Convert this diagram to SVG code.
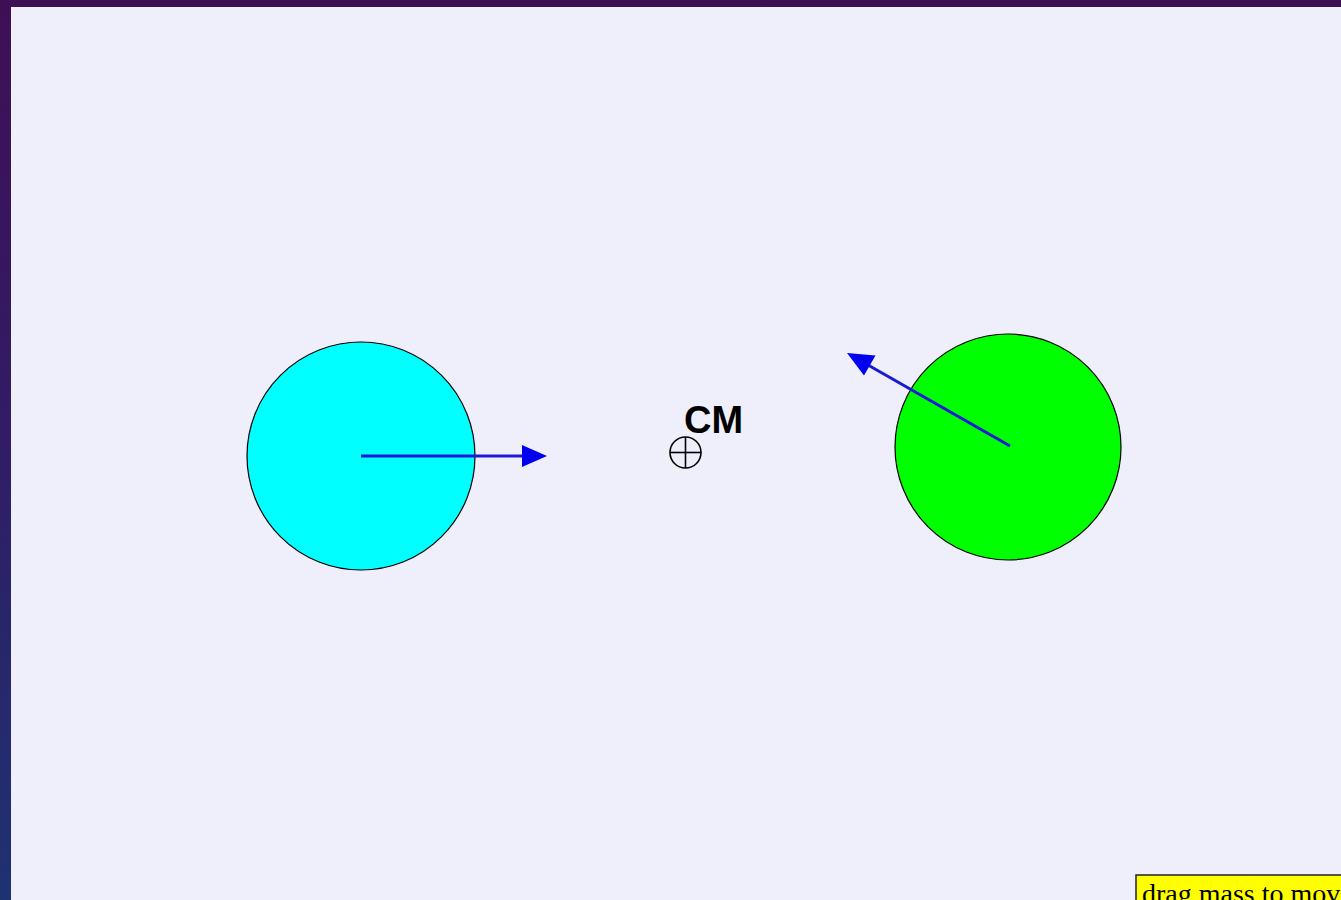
<svg xmlns="http://www.w3.org/2000/svg" width="1341" height="900" viewBox="0 0 1341 900">
<defs>
<linearGradient id="bg" x1="0" y1="0" x2="0" y2="1">
<stop offset="0" stop-color="#3f0f55"/>
<stop offset="0.5" stop-color="#301d66"/>
<stop offset="1" stop-color="#1e3272"/>
</linearGradient>
<style>
.arrow{stroke:#1a1ad6;stroke-width:3;fill:none}
.head{fill:#0000ee}
.mass{stroke:#000;stroke-width:1.2}
</style>
</defs>
<rect width="1341" height="900" fill="url(#bg)"/>
<rect x="11" y="7" width="1330" height="893" fill="#efeffc"/>
<g id="mass1">
<circle class="mass" cx="361" cy="456" r="114" fill="#00ffff"/>
</g>
<g id="mass2">
<circle class="mass" cx="1008" cy="447" r="113" fill="#00ff00"/>
</g>
<g id="connectors">
<line class="arrow" x1="361" y1="456" x2="522" y2="456"/>
<path class="head" d="M522,445 L547,456 L522,467 Z"/>
<line class="arrow" x1="1010" y1="446" x2="868" y2="365"/>
<path class="head" d="M847,353 L875.5,355.5 L864,375.5 Z"/>
</g>
<g id="cm">
<circle cx="685.5" cy="452.5" r="15.5" fill="none" stroke="#000" stroke-width="1.6"/>
<line x1="670" y1="452.5" x2="701" y2="452.5" stroke="#000" stroke-width="1.6"/>
<line x1="685.5" y1="437" x2="685.5" y2="468" stroke="#000" stroke-width="1.6"/>
<text x="684" y="433" font-family="Liberation Sans, Arial, sans-serif" font-weight="bold" font-size="38" fill="#000">CM</text>
</g>
<g id="hint">
<rect x="1136" y="875" width="240" height="40" fill="#ffff00" stroke="#222" stroke-width="1.5"/>
<text x="1142" y="903" font-family="Liberation Serif, Times New Roman, serif" font-size="28" fill="#000">drag mass to move</text>
</g>
</svg>
